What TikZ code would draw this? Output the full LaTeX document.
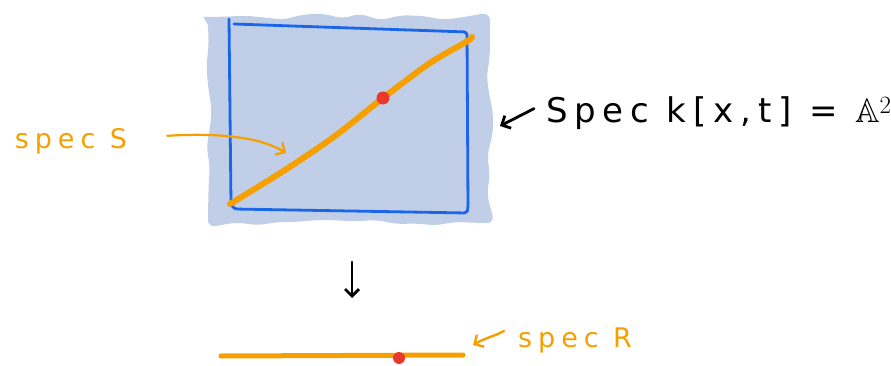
\documentclass[tikz,border=0pt]{standalone}
\usepackage{amssymb}
\usepackage{fontspec}
\newfontfamily\handfont[LetterSpace=22]{DejaVu Sans}
\newfontfamily\bighandfont[LetterSpace=20]{DejaVu Sans}
\usetikzlibrary{arrows.meta, positioning, decorations.pathmorphing}
\definecolor{skyfill}{HTML}{C0CEE8}
\definecolor{penblue}{HTML}{1A66E8}
\definecolor{penorange}{HTML}{F5A000}
\definecolor{penred}{HTML}{E8392A}

\begin{document}
\begin{tikzpicture}[
    x=1pt, y=-1pt,
    hand/.style={line cap=round, line join=round},
    tag/.style={font=\handfont\fontsize{27}{29}\selectfont, inner sep=0pt, anchor=base},
    hook/.style={-{Straight Barb[length=7pt, width=14pt]}, line width=2.8pt, hand},
    blob/.style={fill=skyfill, decorate, rounded corners=8pt,
                 decoration={random steps, segment length=20pt, amplitude=3.5pt}},
]
\useasboundingbox (0,0) rectangle (891,366);
\pgfmathsetseed{7}

% plane
\path[blob] (208,17) rectangle (490,223);
\draw[penblue, line width=2.8pt, hand, rounded corners=3pt]
    (229,19) -- (231,204) -- (234,209) -- (467,213) -- (468,208) -- (467,32) -- (234,24);

% diagonal spec S and its point
\draw[penorange, line width=6pt, hand] plot[smooth] coordinates
    {(230,204) (285,170) (335,136) (383,98) (430,63) (466,42) (472,37)};
\coordinate (diag) at (286,153);
\fill[penred] (383,98) circle (6.5pt);

% labels
\node[tag, text=penorange] (lblS) at (71,149) {spec S};
\node[tag, font=\bighandfont\fontsize{34}{36}\selectfont, anchor=base west] (lblA) at (546,123)
    {Spec k[x,t] = $\mathbb{A}^2$};
\coordinate (sqE) at (500,126);

% map down to the line
\coordinate (mapTop) at (352,262);
\coordinate (mapBot) at (352,298);
\draw[hook] (mapTop) -- (mapBot);

% line spec R and its point
\draw[penorange, line width=5pt, hand] (221,356) -- (463,355);
\fill[penred] (399,358) circle (6pt);
\node[tag, text=penorange, anchor=base west] (lblR) at (518,347) {spec R};
\coordinate (lineE) at (473,345);

% pointers
\draw[hook, penorange, line width=2.2pt] (lblS.east) ++(40,-6) .. controls (230,132) and (265,140) .. (diag);
\draw[hook] (lblA.west) ++(-12,-5) -- (sqE);
\draw[hook, penorange, line width=2.4pt] (lblR.west) ++(-14,-9) .. controls (495,336) and (485,338) .. (lineE);

\end{tikzpicture}
\end{document}
